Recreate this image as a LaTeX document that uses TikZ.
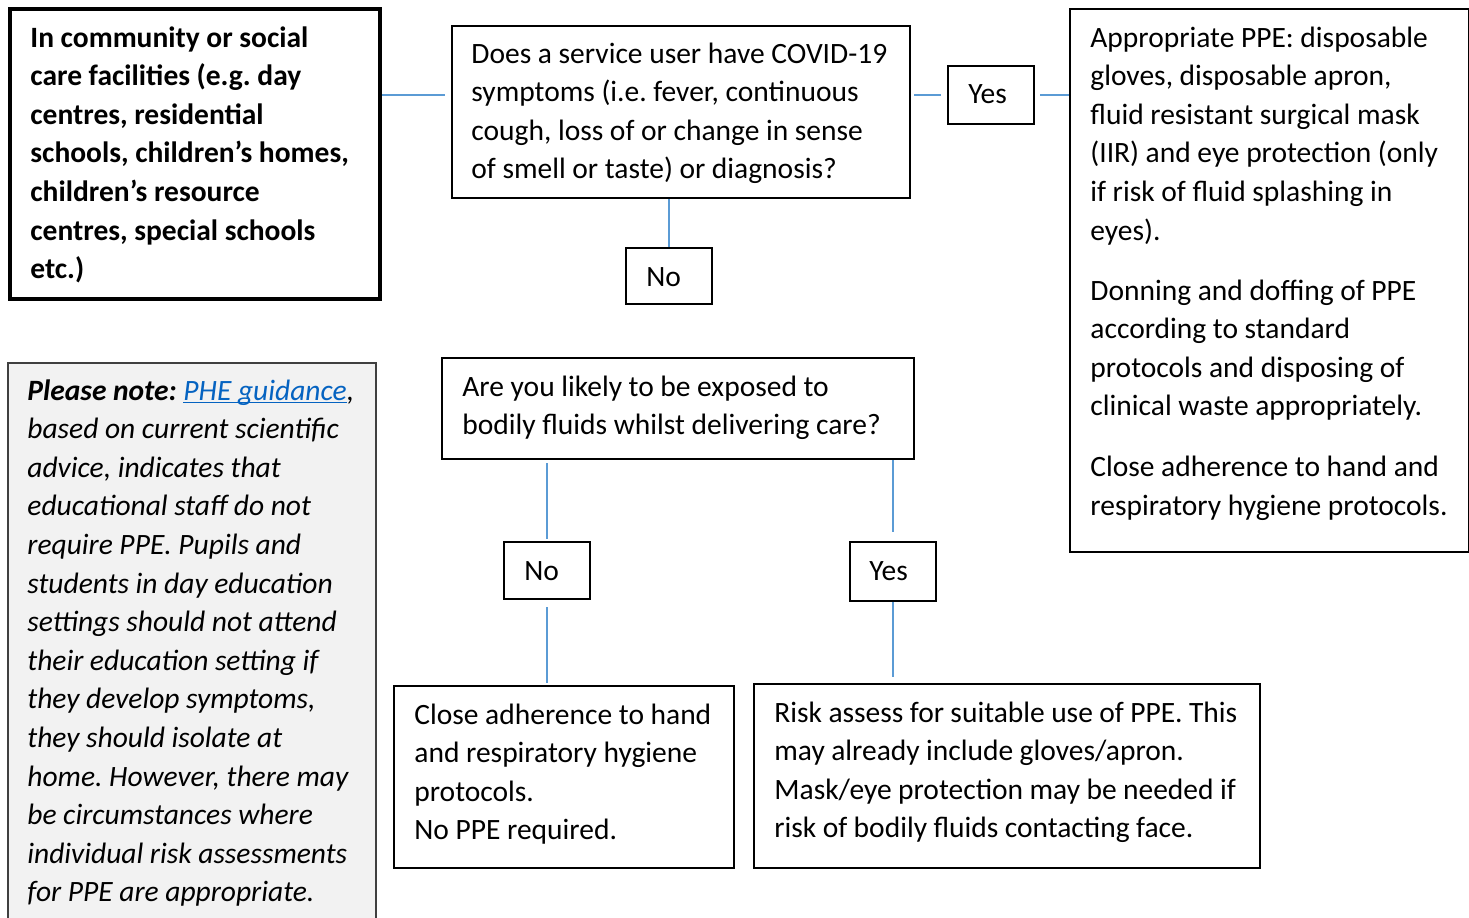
\documentclass[tikz,border=0pt]{standalone}
\usepackage{fontspec}
\setmainfont{Carlito}
\frenchspacing
\definecolor{conn}{HTML}{5B9BD5}
\definecolor{notefill}{HTML}{F2F2F2}
\definecolor{notedraw}{HTML}{404040}
\definecolor{link}{HTML}{0563C1}
\newcommand\linkul[1]{\leavevmode\setbox0\hbox{#1}\rlap{\rule[-1.7pt]{\wd0}{0.6pt}}\box0}
\begin{document}
\begin{tikzpicture}[x=0.5pt,y=-0.5pt,
  box/.style={draw=black,line width=1pt,inner sep=0pt,anchor=north west},
  txt/.style={anchor=base west,inner sep=0pt,align=left,text width=#1,
    font=\fontsize{14.75}{19.3}\selectfont,
    execute at begin node={\frenchspacing\spaceskip=3.3pt\relax}},
  txt/.default=200pt,
  conn/.style={draw=conn,line width=0.75pt}]
\useasboundingbox (0,0) rectangle (1469,917);
% boxes
\node[box,line width=2pt,minimum width=185pt,minimum height=145pt] (A) at (8,7) {};
\node[box,minimum width=229pt,minimum height=86pt] (B) at (451,25) {};
\node[box,minimum width=43pt,minimum height=29pt] (Y1) at (947,65) {};
\node[box,minimum width=199.5pt,minimum height=271.5pt] (C) at (1069,8) {};
\node[box,minimum width=43pt,minimum height=28pt] (N1) at (625,247) {};
\node[box,draw=notedraw,fill=notefill,line width=0.75pt,minimum width=184pt,minimum height=290pt] (P) at (7,362) {};
\node[box,minimum width=236pt,minimum height=50.5pt] (D) at (441,357) {};
\node[box,minimum width=43pt,minimum height=28.5pt] (N2) at (503,541) {};
\node[box,minimum width=43pt,minimum height=29.5pt] (Y2) at (849,541) {};
\node[box,minimum width=170pt,minimum height=91pt] (E) at (393,685) {};
\node[box,minimum width=253pt,minimum height=92pt] (F) at (753,683) {};
% texts
\node[txt=180pt] (At) at (30,47) {\bfseries In community or social\\care facilities (e.g. day\\centres, residential\\schools, children’s homes,\\children’s resource\\centres, special schools\\etc.)};
\node[txt=225pt] (Bt) at (471,63) {Does a service user have COVID-19\\symptoms (i.e. fever, continuous\\cough, loss of or change in sense\\of smell or taste) or diagnosis?};
\node[txt=40pt] (Y1t) at (968,103) {Yes};
\node[txt=195pt] (Ct) at (1090,47) {Appropriate PPE: disposable\\gloves, disposable apron,\\fluid resistant surgical mask\\(IIR) and eye protection (only\\if risk of fluid splashing in\\eyes).\\[10.7pt]Donning and doffing of PPE\\according to standard\\protocols and disposing of\\clinical waste appropriately.\\[11pt]Close adherence to hand and\\respiratory hygiene protocols.};
\node[txt=40pt] (N1t) at (646,286) {No};
\node[txt=180pt] (Pt) at (27,400) {\itshape\textbf{Please note:} \textcolor{link}{\linkul{PHE guidance}},\\based on current scientific\\advice, indicates that\\educational staff do not\\require PPE. Pupils and\\students in day education\\settings should not attend\\their education setting if\\they develop symptoms,\\they should isolate at\\home. However, there may\\be circumstances where\\individual risk assessments\\for PPE are appropriate.};
\node[txt=230pt] (Dt) at (462,396) {Are you likely to be exposed to\\bodily fluids whilst delivering care?};
\node[txt=40pt] (N2t) at (524,580) {No};
\node[txt=40pt] (Y2t) at (869,580) {Yes};
\node[txt=165pt] (Et) at (414,724) {Close adherence to hand\\and respiratory hygiene\\protocols.\\No PPE required.};
\node[txt=245pt] (Ft) at (774,722) {\spaceskip=3.2pt\relax Risk assess for suitable use of PPE. This\\may already include gloves/apron.\\Mask/eye protection may be needed if\\risk of bodily fluids contacting face.};
% connectors
\draw[conn,shorten >=3pt] (A.east |- Y1.west) -- (B.west |- Y1.west);
\draw[conn,shorten <=1.5pt,shorten >=3pt] (B.east |- Y1.west) -- (Y1.west);
\draw[conn,shorten <=2.5pt] (Y1.east) -- (C.west |- Y1.east);
\draw[conn] (B.south -| N1.north) -- (N1.north);
\draw[conn,shorten <=1.5pt,shorten >=1pt] (D.south -| N2.north) -- (N2.north);
\draw[conn,shorten >=4.5pt] (D.south -| Y2.north) -- (Y2.north);
\draw[conn,shorten <=3.5pt,shorten >=1pt] (N2.south) -- (N2.south |- E.north);
\draw[conn,shorten >=3pt] (Y2.south) -- (Y2.south |- F.north);
\end{tikzpicture}
\end{document}
